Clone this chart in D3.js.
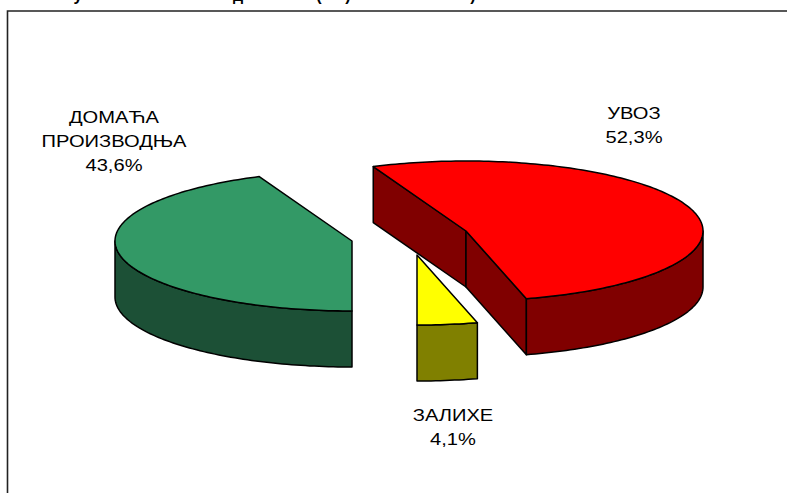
<!DOCTYPE html>
<html>
<head>
<meta charset="utf-8">
<script src="https://cdn.jsdelivr.net/npm/d3@7"></script>
<style>
  html, body { margin: 0; padding: 0; background: #fff; }
  svg { display: block; }
  text { font-family: "Liberation Sans", Arial, sans-serif; fill: #000; }
</style>
</head>
<body>
<svg id="chart" width="787" height="493"></svg>
<script>
// Supply breakdown, in percent
const categories = ["ДОМАЋА ПРОИЗВОДЊА", "УВОЗ", "ЗАЛИХЕ"];
const shares = [43.6, 52.3, 4.1];
const shareLabels = ["43,6%", "52,3%", "4,1%"];
const labelLines = [["ДОМАЋА", "ПРОИЗВОДЊА"], ["УВОЗ"], ["ЗАЛИХЕ"]];

// Slice appearance and placement of the exploded pieces
const topColors = ["#339966", "#FF0000", "#FFFF00"];
const wallColors = ["#1C5036", "#800000", "#808000"];
const sliceCenters = [[352, 241], [466, 231], [417, 255]];
const labelAnchors = [[114, 123], [634, 119], [453, 421]];
const drawOrder = [0, 2, 1];

const rx = 237, ry = 70, depth = 56;
const lineGap = 24;

const svg = d3.select("#chart");

// Heading sits above the frame and runs off the top edge
const headingGlyphs = [["у", 78], ["д", 238], ["(", 319], [")", 348], [")", 473]];
svg.append("g").selectAll("text").data(headingGlyphs).join("text")
  .attr("x", d => d[1]).attr("y", 1)
  .attr("text-anchor", "middle")
  .attr("font-size", 16).attr("font-weight", "bold")
  .text(d => d[0]);

// Frame: only the top and left rules are drawn
svg.append("path")
  .attr("d", d3.line()([[787, 11], [7.5, 11], [7.5, 493]]))
  .attr("fill", "none").attr("stroke", "#222").attr("stroke-width", 1.6);

// Unit circle to flattened ellipse
const px = d3.scaleLinear().domain([-1, 1]).range([-rx, rx]);
const py = d3.scaleLinear().domain([-1, 1]).range([-ry, ry]);
const project = (a, c, dy = 0) => [c[0] + px(Math.sin(a)), c[1] + py(-Math.cos(a)) + dy];

const pie = d3.pie().sort(null).startAngle(Math.PI).endAngle(3 * Math.PI);
const arcs = pie(shares);

const line = d3.line();
const arcPoints = (a0, a1, c, dy = 0) => {
  const n = Math.max(2, Math.ceil(Math.abs(a1 - a0) / 0.02));
  return d3.range(n + 1).map(i => project(a0 + (a1 - a0) * i / n, c, dy));
};

// Part of [a0, a1] that lies on the near half of the ellipse
function frontSpans(a0, a1) {
  const spans = [];
  for (let k = 0; k < 2; k++) {
    const lo = Math.max(a0, Math.PI / 2 + k * 2 * Math.PI);
    const hi = Math.min(a1, 3 * Math.PI / 2 + k * 2 * Math.PI);
    if (hi > lo) spans.push([lo, hi]);
  }
  return spans;
}

const style = (sel, fill) => sel
  .attr("fill", fill).attr("stroke", "#000")
  .attr("stroke-width", 1.5).attr("stroke-linejoin", "round");

const layer = svg.append("g");
drawOrder.forEach(i => {
  const { startAngle: a0, endAngle: a1 } = arcs[i];
  const c = sliceCenters[i];
  const g = layer.append("g").attr("class", "slice");

  // Flat cut faces, shown only when they turn towards the viewer
  const radial = a => {
    const p = project(a, c);
    style(g.append("path"), wallColors[i])
      .attr("d", line([c, p, [p[0], p[1] + depth], [c[0], c[1] + depth]]) + "Z");
  };
  if (Math.sin(a0) < -1e-6) radial(a0);
  if (Math.sin(a1) > 1e-6) radial(a1);

  // Curved rim
  frontSpans(a0, a1).forEach(([lo, hi]) => {
    const upper = arcPoints(lo, hi, c);
    const lower = arcPoints(hi, lo, c, depth);
    style(g.append("path"), wallColors[i]).attr("d", line(upper.concat(lower)) + "Z");
  });

  // Top face
  style(g.append("path"), topColors[i])
    .attr("d", line([c].concat(arcPoints(a0, a1, c))) + "Z");
});

// Category names with their shares underneath; glyphs run wide in this chart
const labelWiden = 1.22;
categories.forEach((name, i) => {
  const [x, y] = labelAnchors[i];
  const rows = labelLines[i].concat(shareLabels[i]);
  svg.append("text")
    .attr("font-size", 16.5)
    .attr("text-anchor", "middle")
    .attr("aria-label", name)
    .attr("transform", `translate(${x},${y}) scale(${labelWiden},1)`)
    .selectAll("tspan").data(rows).join("tspan")
    .attr("x", 0)
    .attr("y", (d, k) => k * lineGap)
    .text(d => d);
});
</script>
</body>
</html>
